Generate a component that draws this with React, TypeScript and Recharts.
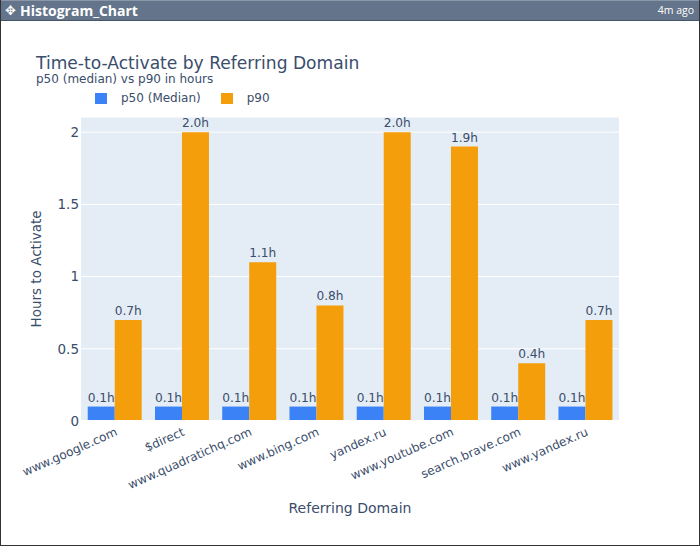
import { BarChart, Bar, XAxis, YAxis, CartesianGrid, LabelList, Legend, Label } from "recharts";

const domains = [
  "www.google.com",
  "$direct",
  "www.quadratichq.com",
  "www.bing.com",
  "yandex.ru",
  "www.youtube.com",
  "search.brave.com",
  "www.yandex.ru",
];
const p50Hours = [0.1, 0.1, 0.1, 0.1, 0.1, 0.1, 0.1, 0.1];
const p90Hours = [0.7, 2.0, 1.1, 0.8, 2.0, 1.9, 0.4, 0.7];
const yTicks = [0, 0.5, 1, 1.5, 2];

const chartData = domains.map((domain, i) => ({
  domain,
  p50: p50Hours[i],
  p90: p90Hours[i],
}));

const INK = "#3a4d6b";
const FONT = "'DejaVu Sans', Verdana, sans-serif";
const BLUE = "#3b82f6";
const ORANGE = "#f59e0b";

function formatHours(v: number) {
  return `${v.toFixed(1)}h`;
}

function LegendRow({ payload }: { payload?: { value: string; color: string }[] }) {
  return (
    <div style={{ display: "flex", fontFamily: FONT, fontSize: 12, color: INK }}>
      {(payload ?? []).map((p) => (
        <div key={p.value} style={{ display: "flex", alignItems: "center", marginRight: 20 }}>
          <span style={{ width: 12, height: 11, background: p.color, marginRight: 14 }} />
          <span>{p.value}</span>
        </div>
      ))}
    </div>
  );
}

export default function App() {
  return (
    <div
      style={{
        position: "absolute",
        left: 0,
        top: 0,
        width: 700,
        height: 546,
        background: "#fff",
        boxSizing: "border-box",
        borderLeft: "1px solid #333",
        borderRight: "1px solid #333",
        borderBottom: "1px solid #333",
        overflow: "hidden",
      }}
    >
      <div
        style={{
          position: "absolute",
          left: -1,
          top: 0,
          width: 700,
          height: 21,
          boxSizing: "border-box",
          background: "#64748b",
          borderTop: "1px solid #8a97a8",
          borderBottom: "1px solid #475569",
          color: "#fff",
          fontFamily: "'Open Sans', sans-serif",
          lineHeight: "19px",
        }}
      >
        <span style={{ position: "absolute", left: 5, fontSize: 13 }}>✥</span>
        <span style={{ position: "absolute", left: 20, fontSize: 14, fontWeight: 700 }}>Histogram_Chart</span>
        <span style={{ position: "absolute", right: 6, fontSize: 10.5 }}>4m ago</span>
      </div>
      <div style={{ position: "absolute", left: 35, top: 53, fontFamily: FONT, fontSize: 17.1, color: INK, whiteSpace: "nowrap" }}>
        Time-to-Activate by Referring Domain
      </div>
      <div style={{ position: "absolute", left: 35, top: 72, fontFamily: FONT, fontSize: 12, color: INK, whiteSpace: "nowrap" }}>
        p50 (median) vs p90 in hours
      </div>
      <div style={{ position: "absolute", left: -1, top: 0 }}>
        <BarChart
          width={700}
          height={546}
          data={chartData}
          margin={{ top: 103, right: 81, bottom: 65, left: 41 }}
          barCategoryGap="10%"
          barGap={0}
        >
          <CartesianGrid vertical={false} fill="#e4ecf5" stroke="#fff" strokeWidth={1} />
          <XAxis
            dataKey="domain"
            height={60}
            interval={0}
            angle={-24}
            textAnchor="end"
            tickLine={false}
            axisLine={{ stroke: "#fff", strokeWidth: 2 }}
            tick={{ fill: INK, fontSize: 12, fontFamily: FONT }}
            tickMargin={0}
          >
            <Label value="Referring Domain" position="bottom" offset={22} fill={INK} fontSize={14} fontFamily={FONT} />
          </XAxis>
          <YAxis
            width={40}
            domain={[0, 2.105]}
            ticks={yTicks}
            tickLine={false}
            tickSize={0}
            axisLine={false}
            tick={{ fill: INK, fontSize: 13.5, fontFamily: FONT }}
            tickMargin={2}
          >
            <Label
              value="Hours to Activate"
              angle={-90}
              position="left"
              offset={5}
              fill={INK}
              fontSize={13.5}
              fontFamily={FONT}
              style={{ textAnchor: "middle" }}
            />
          </YAxis>
          <Legend
            verticalAlign="top"
            content={(props: any) => <LegendRow payload={props.payload} />}
            wrapperStyle={{ position: "absolute", top: 91, left: 95, width: "auto" }}
          />
          <Bar dataKey="p50" name="p50 (Median)" fill={BLUE} isAnimationActive={false}>
            <LabelList dataKey="p50" position="top" formatter={formatHours} fill={INK} fontSize={12.2} fontFamily={FONT} />
          </Bar>
          <Bar dataKey="p90" name="p90" fill={ORANGE} isAnimationActive={false}>
            <LabelList dataKey="p90" position="top" formatter={formatHours} fill={INK} fontSize={12.2} fontFamily={FONT} />
          </Bar>
        </BarChart>
      </div>
    </div>
  );
}
